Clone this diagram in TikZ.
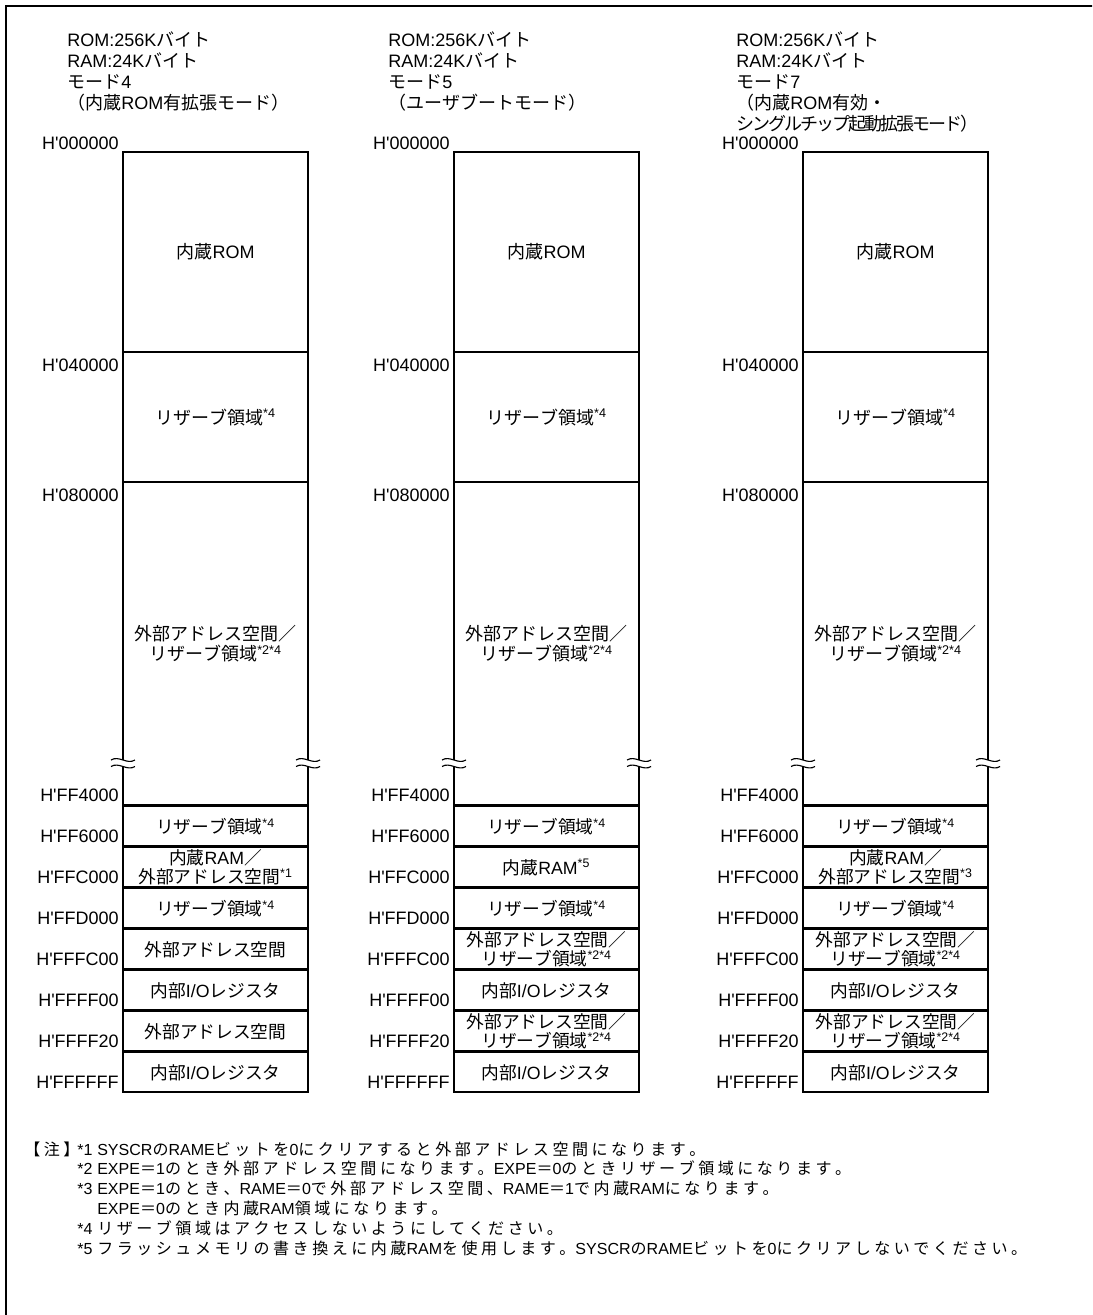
\documentclass[tikz,border=0pt]{standalone}
\usepackage{fontspec}
\setmainfont{Liberation Sans}
\newfontfamily\jpfont{Noto Sans CJK JP}
\usetikzlibrary{positioning}

% Japanese runs switch to the CJK font by themselves
\newlength\jpgap
\newXeTeXintercharclass\jpclass
\newcommand\jprange[2]{\count255=#1\relax
  \loop\XeTeXcharclass\count255=\jpclass\relax
    \advance\count255 by 1\relax
  \ifnum\count255<#2\relax\repeat}
\jprange{"3000}{"3100}
\jprange{"4E00}{"A000}
\jprange{"FF00}{"FFF0}
\XeTeXinterchartoks 0 \jpclass = {\begingroup\jpfont}
\XeTeXinterchartoks 4095 \jpclass = {\begingroup\jpfont}
\XeTeXinterchartoks \jpclass 0 = {\endgroup}
\XeTeXinterchartoks \jpclass 4095 = {\endgroup}
\XeTeXinterchartoks \jpclass \jpclass = {\hskip\jpgap\relax}
\XeTeXinterchartokenstate=1

\begin{document}
\begin{tikzpicture}[
    x=0.025cm, y=-0.025cm,
    region/.style={rectangle, draw=black, line width=1.4pt, minimum width=4.625cm,
                   inner sep=0pt, outer sep=0pt, align=center,
                   font=\fontsize{12.8pt}{14pt}\selectfont},
    cell/.style={region, minimum height=0.993cm, font=\fontsize{12.6pt}{13.4pt}\selectfont},
    addr/.style={anchor=east, inner sep=0pt, font=\fontsize{12.8pt}{14pt}\selectfont},
    head/.style={anchor=north west, inner sep=0pt, align=left,
                 font=\fontsize{12.8pt}{14.94pt}\selectfont},
    note/.style={anchor=base west, inner sep=0pt,
                 font=\fontsize{11.4pt}{14pt}\selectfont\setlength\jpgap{2.5pt}},
    wave/.style={line width=0.8pt}
]
\useasboundingbox (0,0) rectangle (1092,1315);
\begin{scope}
  \clip (0,0) rectangle (1092,1315);
  \draw[line width=1.7pt] (6,6) rectangle (1120,1340);
\end{scope}

% mode headings
\node[head] (hd4) at (67,31) {ROM:256Kバイト\\RAM:24Kバイト\\モード4\\（内蔵ROM有拡張モード）};
\node[head] (hd5) at (388,31) {ROM:256Kバイト\\RAM:24Kバイト\\モード5\\（ユーザブートモード）};
\node[head] (hd7) at (736,31) {ROM:256Kバイト\\RAM:24Kバイト\\モード7\\（内蔵ROM有効・\\{\setlength\jpgap{-1.4pt}シングルチップ起動拡張モード）}};

% one memory map per mode
\foreach \col/\xx/\ram/\ext in {
    1/123/{内蔵RAM／\\外部アドレス空間\textsuperscript{*1}}/{外部アドレス空間},
    2/454/{内蔵RAM\textsuperscript{*5}}/{外部アドレス空間／\\リザーブ領域\textsuperscript{*2*4}},
    3/803/{内蔵RAM／\\外部アドレス空間\textsuperscript{*3}}/{外部アドレス空間／\\リザーブ領域\textsuperscript{*2*4}}} {
  \node[region, minimum height=5cm, anchor=north west] (rom\col) at (\xx,152) {内蔵ROM};
  \node[region, minimum height=3.25cm, below=0pt of rom\col] (rsv\col) {リザーブ領域\textsuperscript{*4}};
  \node[region, minimum height=8.075cm, below=0pt of rsv\col] (ext\col) {外部アドレス空間／\\リザーブ領域\textsuperscript{*2*4}};
  \node[cell, below=0.9pt of ext\col] (rsva\col) {リザーブ領域\textsuperscript{*4}};
  \node[cell, below=0.9pt of rsva\col] (ram\col) {\ram};
  \node[cell, below=0.9pt of ram\col] (rsvb\col) {リザーブ領域\textsuperscript{*4}};
  \node[cell, below=0.9pt of rsvb\col] (exta\col) {\ext};
  \node[cell, below=0.9pt of exta\col] (ioa\col) {内部I/Oレジスタ};
  \node[cell, below=0.9pt of ioa\col] (extb\col) {\ext};
  \node[cell, below=0.9pt of extb\col] (iob\col) {内部I/Oレジスタ};

  % addresses
  \node[addr] (h000000-\col) at ([shift={(-4,-9)}]rom\col.north west) {H\textquotesingle 000000};
  \node[addr] (h040000-\col) at ([shift={(-4,13)}]rsv\col.north west) {H\textquotesingle 040000};
  \node[addr] (h080000-\col) at ([shift={(-4,13)}]ext\col.north west) {H\textquotesingle 080000};
  \node[addr] (hFF4000-\col) at ([shift={(-4,-10)}]ext\col.south west) {H\textquotesingle FF4000};
  \foreach \nm/\adr in {rsva/FF6000, ram/FFC000, rsvb/FFD000, exta/FFFC00,
                        ioa/FFFF00, extb/FFFF20, iob/FFFFFF}
    \node[addr] (h\adr-\col) at ([shift={(-4,-10)}]\nm\col.south west) {H\textquotesingle\adr};

  % break marks
  \foreach \side in {west,east} {
    \begin{scope}[shift={(ext\col.\side |- 0,763)}]
      \fill[white] (-3,-3) rectangle (3,3.5);
      \draw[wave] (-12,-3) .. controls (-4,-8) and (4,2) .. (12,-3);
      \draw[wave] (-12,3.5) .. controls (-4,-1.5) and (4,8.5) .. (12,3.5);
    \end{scope}
  }
}

% notes
\node[note] (notehd) at (24,1155) {【注】};
\foreach \mk/\txt [count=\i] in {
    *1/{SYSCRのRAMEビットを0にクリアすると外部アドレス空間になります。},
    *2/{EXPE＝1のとき外部アドレス空間になります。EXPE＝0のときリザーブ領域になります。},
    *3/{EXPE＝1のとき、RAME＝0で外部アドレス空間、RAME＝1で内蔵RAMになります。},
    {}/{EXPE＝0のとき内蔵RAM領域になります。},
    *4/{リザーブ領域はアクセスしないようにしてください。},
    *5/{フラッシュメモリの書き換えに内蔵RAMを使用します。SYSCRのRAMEビットを0にクリアしないでください。}}
  \node[note] (note\i) at (77,{1155+19.8*(\i-1)}) {\makebox[0.5cm][l]{\mk}\txt};

\end{tikzpicture}
\end{document}
